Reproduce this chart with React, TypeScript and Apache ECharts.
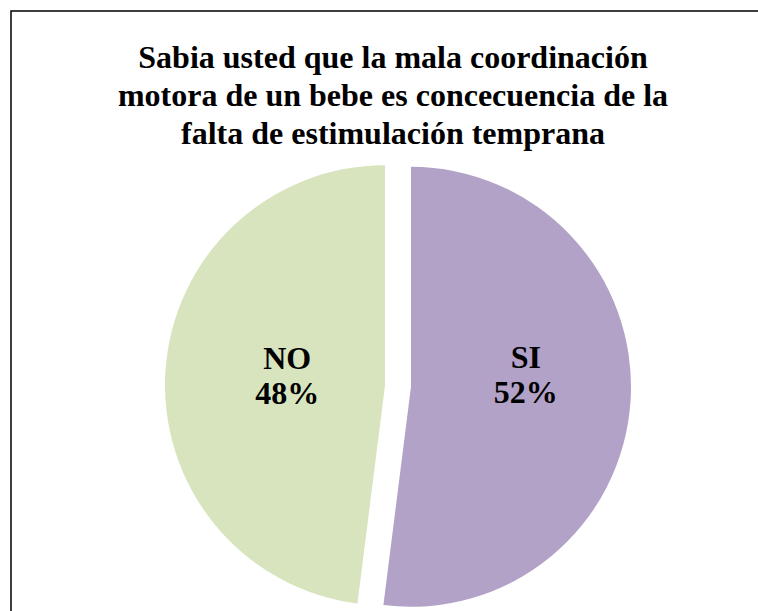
import React, { useEffect, useRef } from "react";
import * as echarts from "echarts";

const titleLines = [
  "Sabia usted que la mala coordinación",
  "motora de un bebe es concecuencia de la",
  "falta de estimulación temprana",
];
const categories = ["SI", "NO"];
const values = [52, 48];
const colors = ["#B2A2C7", "#D7E4BD"];
const labelOffsets: [number, number][] = [
  [2, -19],
  [15, -3],
];

const FONT = "Liberation Serif";

export default function App() {
  const ref = useRef<HTMLDivElement>(null);
  useEffect(() => {
    if (!ref.current) return;
    const chart = echarts.init(ref.current, undefined, { renderer: "svg" });
    chart.setOption({
      animation: false,
      backgroundColor: "#ffffff",
      title: {
        text: titleLines.join("\n"),
        left: 393,
        top: 38,
        padding: 0,
        textAlign: "center",
        textStyle: {
          fontFamily: FONT,
          fontWeight: "bold",
          fontSize: 32,
          lineHeight: 38,
          color: "#000000",
        },
      },
      graphic: [
        {
          type: "rect",
          shape: { x: 11, y: 11, width: 800, height: 700 },
          style: { fill: "none", stroke: "#000000", lineWidth: 1.5 },
          silent: true,
          z: -1,
        },
      ],
      series: [
        {
          type: "pie",
          center: [398, 386],
          radius: 220,
          startAngle: 90,
          clockwise: true,
          selectedMode: "multiple",
          selectedOffset: 13,
          emphasis: { disabled: true },
          labelLine: { show: false },
          label: {
            show: true,
            position: "inner",
            formatter: (p: any) => `${p.name}\n${p.value}%`,
            fontFamily: FONT,
            fontWeight: "bold",
            fontSize: 32,
            lineHeight: 35,
            color: "#000000",
          },
          data: categories.map((c, i) => ({
            name: c,
            value: values[i],
            selected: true,
            itemStyle: { color: colors[i] },
            label: { offset: labelOffsets[i] },
            select: {
              itemStyle: { color: colors[i] },
              label: { offset: labelOffsets[i] },
            },
          })),
        },
      ],
    });
    return () => chart.dispose();
  }, []);
  return (
    <div
      ref={ref}
      style={{ position: "fixed", left: 0, top: 0, width: 758, height: 611 }}
    />
  );
}
